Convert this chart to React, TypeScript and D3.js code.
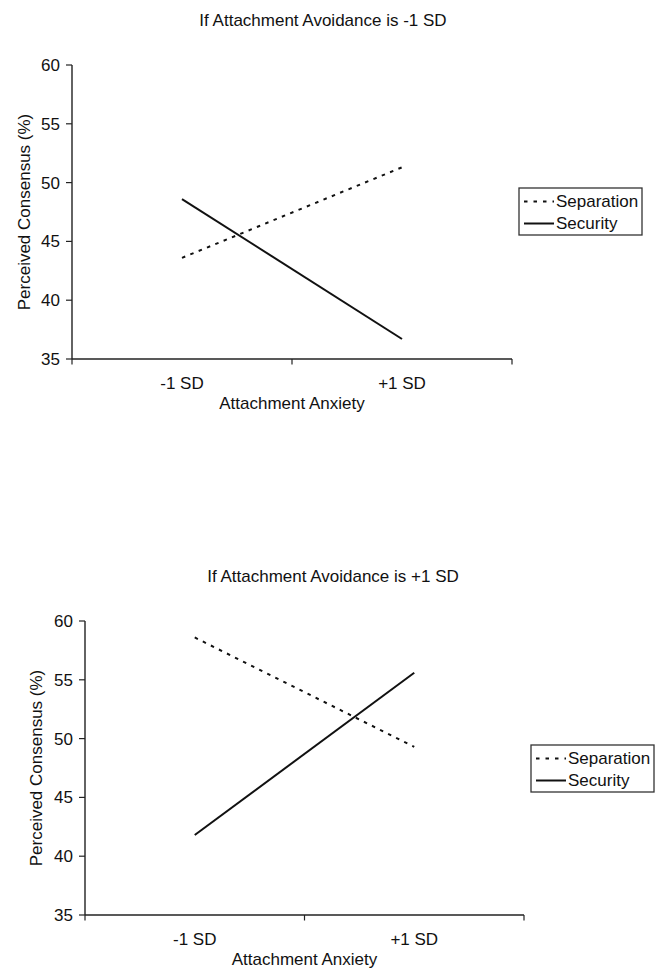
import React from "react";
import * as d3 from "d3";

const categories = ["-1 SD", "+1 SD"];
const yTicks = [35, 40, 45, 50, 55, 60];
const seriesNames = ["Separation", "Security"];
const titles = ["If Attachment Avoidance is -1 SD", "If Attachment Avoidance is +1 SD"];
const lowAvoidSeparation = [43.6, 51.3];
const lowAvoidSecurity = [48.6, 36.7];
const highAvoidSeparation = [58.6, 49.3];
const highAvoidSecurity = [41.8, 55.6];

const FONT = "'Liberation Sans', Arial, Helvetica, sans-serif";
const FS = 17;
const DASH = "3.5,5.5";

type PanelProps = {
  left: number; right: number; top: number; bottom: number;
  titleX: number; title: string;
  separation: number[]; security: number[];
  legendX: number; legendY: number; yLabelX: number;
};

function Panel(p: PanelProps) {
  const x = d3.scaleBand<string>().domain(categories).range([p.left, p.right]).padding(0);
  const y = d3.scaleLinear().domain([35, 60]).range([p.bottom, p.top]);
  const cx = (c: string) => (x(c) as number) + x.bandwidth() / 2;
  const line = d3.line<[string, number]>().x(d => cx(d[0])).y(d => y(d[1]));
  const sepPts = categories.map((c, i) => [c, p.separation[i]] as [string, number]);
  const secPts = categories.map((c, i) => [c, p.security[i]] as [string, number]);
  const boundaries = [p.left, ...categories.map(c => (x(c) as number) + x.bandwidth())];
  const midY = (p.top + p.bottom) / 2;
  const lw = 123, lh = 47;
  return (
    <g fontFamily={FONT} fontSize={FS} fill="#111" stroke="none">
      <text x={p.titleX} y={p.top - 39} textAnchor="middle">{p.title}</text>
      {/* y axis */}
      <line x1={p.left} x2={p.left} y1={p.top} y2={p.bottom} stroke="#222" strokeWidth={1.4} />
      {yTicks.map(t => (
        <g key={t}>
          <line x1={p.left - 6} x2={p.left} y1={y(t)} y2={y(t)} stroke="#222" strokeWidth={1.2} />
          <text x={p.left - 12} y={y(t)} dy="0.35em" textAnchor="end">{t}</text>
        </g>
      ))}
      {/* x axis */}
      <line x1={p.left} x2={p.right} y1={p.bottom} y2={p.bottom} stroke="#222" strokeWidth={1.4} />
      {boundaries.map((b, i) => (
        <line key={i} x1={b} x2={b} y1={p.bottom} y2={p.bottom + 5.5} stroke="#222" strokeWidth={1.2} />
      ))}
      {categories.map(c => (
        <text key={c} x={cx(c)} y={p.bottom + 29.5} textAnchor="middle">{c}</text>
      ))}
      <text x={(p.left + p.right) / 2} y={p.bottom + 50} textAnchor="middle">Attachment Anxiety</text>
      <text transform={`translate(${p.yLabelX},${midY}) rotate(-90)`} textAnchor="middle">Perceived Consensus (%)</text>
      {/* data */}
      <path d={line(sepPts) || ""} fill="none" stroke="#111" strokeWidth={2} strokeDasharray={DASH} />
      <path d={line(secPts) || ""} fill="none" stroke="#111" strokeWidth={2} />
      {/* legend */}
      <rect x={p.legendX} y={p.legendY} width={lw} height={lh} fill="white" stroke="#333" strokeWidth={1.3} />
      {seriesNames.map((s, i) => {
        const ry = p.legendY + 13.5 + i * 22;
        return (
          <g key={s}>
            <line x1={p.legendX + 5} x2={p.legendX + 35} y1={ry} y2={ry} stroke="#111" strokeWidth={2}
              strokeDasharray={i === 0 ? "3.5,6" : undefined} />
            <text x={p.legendX + 37} y={ry} dy="0.35em">{s}</text>
          </g>
        );
      })}
    </g>
  );
}

export default function App() {
  return (
    <svg width={659} height={979} style={{ position: "absolute", left: 0, top: 0, background: "white" }}>
      <rect width={659} height={979} fill="white" />
      <Panel left={72} right={512} top={65} bottom={359} titleX={323} title={titles[0]}
        separation={lowAvoidSeparation} security={lowAvoidSecurity}
        legendX={519} legendY={188} yLabelX={30} />
      <Panel left={85} right={524} top={621} bottom={915} titleX={333} title={titles[1]}
        separation={highAvoidSeparation} security={highAvoidSecurity}
        legendX={531} legendY={745} yLabelX={42} />
    </svg>
  );
}
